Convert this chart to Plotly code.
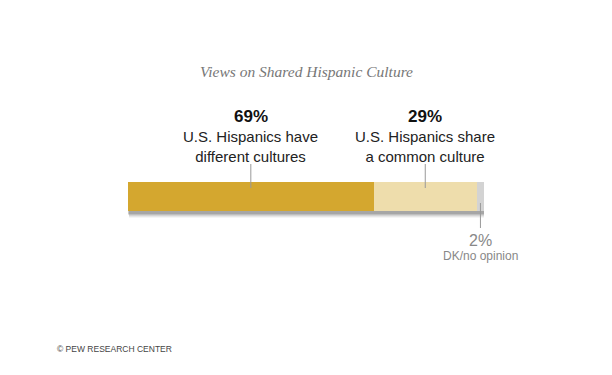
import plotly.graph_objects as go

# Data
categories = ["U.S. Hispanics have different cultures", "U.S. Hispanics share a common culture", "DK/no opinion"]
values = [69, 29, 2]
pct_labels = ["69%", "29%", "2%"]
label_lines = [["U.S. Hispanics have", "different cultures"], ["U.S. Hispanics share", "a common culture"], ["DK/no opinion"]]
colors = ["#D4A72F", "#EEDDAC", "#D3D3D3"]
title = "Views on Shared Hispanic Culture"
source = "© PEW RESEARCH CENTER"

W, H = 612, 375
OFF = 8  # page margin offset in the screenshot
x0_px, x1_px = 128 - OFF, 484 - OFF
bar_top, bar_bot = 182 - OFF, 211 - OFF
SH = 9  # shadow room below the bar, px
unit = bar_bot - bar_top  # px per y unit


def py(p):
    return (H - (p - OFF)) / H


def px(p):
    return (p - OFF) / W


fig = go.Figure()

total = sum(values)
# soft shadow layers behind the bar
for dy, op in [(7, 0.04), (6, 0.06), (5, 0.08), (4, 0.1), (3, 0.12)]:
    fig.add_trace(go.Bar(x=[total + dy / 12], y=[-dy / unit], orientation="h", width=1, base=[dy / 30],
                         marker=dict(color="rgba(0,0,0,%g)" % op, line=dict(width=0)),
                         hoverinfo="skip", showlegend=False))

cum = 0
mids = []
for cat, v, c in zip(categories, values, colors):
    fig.add_trace(go.Bar(x=[v], y=[0], base=[cum], orientation="h", width=1,
                         marker=dict(color=c, line=dict(width=0)), name=cat,
                         showlegend=False, hoverinfo="skip"))
    mids.append(cum + v / 2)
    cum += v

ann = []
shapes = []
sans = "Liberation Sans, Arial, sans-serif"
label_font = dict(family=sans, size=15, color="#222222")
# top labels for the first two segments
for i in range(2):
    ann.append(dict(x=mids[i], y=py(117), xref="x", yref="paper", text="<b>%s</b>" % pct_labels[i],
                    showarrow=False, font=dict(family=sans, size=17, color="#111111"),
                    xanchor="center", yanchor="middle"))
    ann.append(dict(x=mids[i], y=py(146), xref="x", yref="paper", text="<br>".join(label_lines[i]),
                    showarrow=False, font=label_font, xanchor="center", yanchor="middle"))
    shapes.append(dict(type="line", xref="x", yref="paper", x0=mids[i], x1=mids[i],
                       y0=py(164), y1=py(188), line=dict(color="#999999", width=1)))
# bottom label for the small segment
ann.append(dict(x=mids[2], y=py(240), xref="x", yref="paper", text=pct_labels[2],
                showarrow=False, font=dict(family=sans, size=16, color="#888888"),
                xanchor="center", yanchor="middle"))
ann.append(dict(x=mids[2], y=py(256), xref="x", yref="paper", text=label_lines[2][0],
                showarrow=False, font=dict(family=sans, size=12, color="#888888"),
                xanchor="center", yanchor="middle"))
shapes.append(dict(type="line", xref="x", yref="paper", x0=mids[2], x1=mids[2],
                   y0=py(203), y1=py(228), line=dict(color="#999999", width=1)))
# title and source
ann.append(dict(x=px(306), y=py(71), xref="paper", yref="paper", text="<i>%s</i>" % title,
                showarrow=False, font=dict(family="Liberation Serif, Georgia, serif", size=15.5, color="#777777"),
                xanchor="center", yanchor="middle"))
ann.append(dict(x=px(55), y=py(349), xref="paper", yref="paper", text=source,
                showarrow=False, font=dict(family=sans, size=8.5, color="#444444"),
                xanchor="left", yanchor="middle"))

fig.update_layout(
    width=W, height=H, margin=dict(l=0, r=0, t=0, b=0),
    paper_bgcolor="white", plot_bgcolor="rgba(0,0,0,0)",
    barmode="overlay", bargap=0,
    xaxis=dict(domain=[x0_px / W, x1_px / W], range=[0, 100], visible=False, fixedrange=True),
    yaxis=dict(domain=[(H - bar_bot - SH) / H, (H - bar_top) / H],
               range=[-0.5 - SH / unit, 0.5], visible=False, fixedrange=True),
    annotations=ann, shapes=shapes,
)

fig.write_html("out.html")
